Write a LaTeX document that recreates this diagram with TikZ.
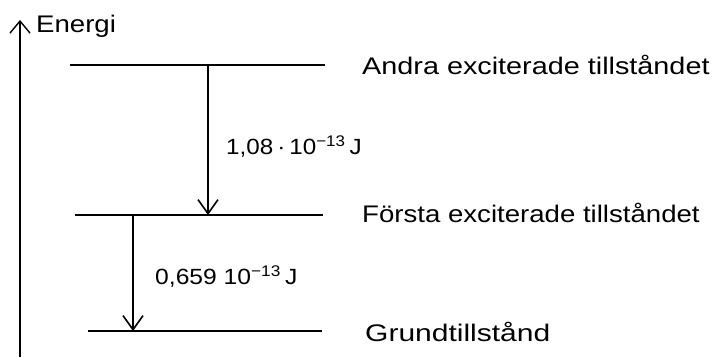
\documentclass[tikz,border=0pt]{standalone}
\usepackage{fontspec}
\setmainfont{Liberation Sans}
\usetikzlibrary{arrows.meta}
\tikzset{
  level/.style={line width=2.2pt},
  trans/.style={line width=1.3pt, -{Straight Barb[length=14pt,width=20pt,line width=1.6pt]}},
  axis/.style={line width=1.2pt, -{Straight Barb[length=12pt,width=20pt,line width=1.4pt]}},
  lbl/.style={font=\fontsize{24}{28}\selectfont, inner sep=0pt, anchor=base west},
  val/.style={font=\fontsize{22}{26}\selectfont, inner sep=0pt, anchor=base west}
}
\begin{document}
\begin{tikzpicture}[x=1pt,y=1pt]
\useasboundingbox (0,0) rectangle (713,357);
% axis
\coordinate (ax0) at (20,0);
\coordinate (ax1) at (20,337);
\draw[axis] (ax0) -- (ax1);
\node[lbl] (en) at (36,324) {\scalebox{1.15}[1]{Energi}};
% levels
\coordinate (l2a) at (70,292); \coordinate (l2b) at (325,292);
\coordinate (l1a) at (75,142); \coordinate (l1b) at (323,142);
\coordinate (l0a) at (88,26);  \coordinate (l0b) at (322,26);
\draw[level] (l2a) -- (l2b);
\draw[level] (l1a) -- (l1b);
\draw[level] (l0a) -- (l0b);
% transitions
\coordinate (t1s) at (208,292); \coordinate (t1e) at (208,142);
\coordinate (t2s) at (133,142); \coordinate (t2e) at (133,26);
\draw[trans] (t1s) -- (t1e);
\draw[trans] (t2s) -- (t2e);
% energy values
\node[val] (v1) at (226,203) {\scalebox{1.1}[1]{1,08\,·\,10\textsuperscript{−13}\,J}};
\node[val] (v2) at (155,73) {\scalebox{1.12}[1]{0,659 10\textsuperscript{−13}\,J}};
% state labels
\node[lbl] (s2) at (362,282) {\scalebox{1.2}[1]{Andra exciterade tillståndet}};
\node[lbl] (s1) at (362,135) {\scalebox{1.15}[1]{Första exciterade tillståndet}};
\node[lbl] (s0) at (365,16) {\scalebox{1.25}[1]{Grundtillstånd}};
\end{tikzpicture}
\end{document}
